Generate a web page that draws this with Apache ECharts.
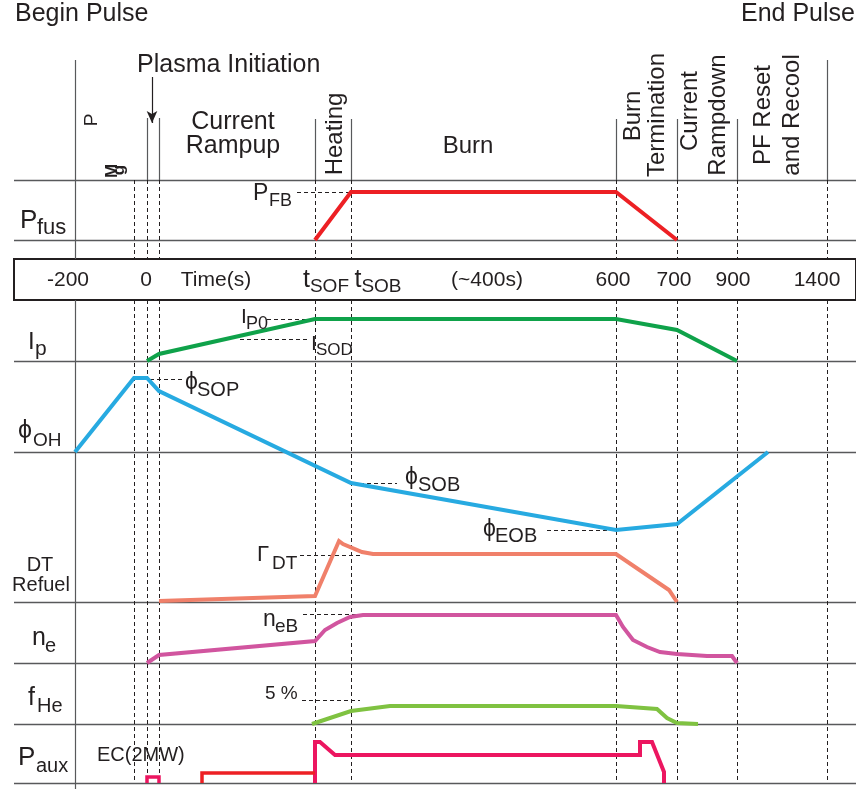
<!DOCTYPE html>
<html><head><meta charset="utf-8">
<script src="https://cdn.jsdelivr.net/npm/echarts@6/dist/echarts.min.js"></script>
<style>html,body{margin:0;padding:0;background:#fff}#c{width:856px;height:789px}</style>
</head><body><div id="c"></div>
<script>
// x: schematic time position across the pulse; y: signal level above each panel baseline (arbitrary units)
const pFus     = [[315,0],[351,48],[616,48],[677,0]];
const ip       = [[147,0],[159,7],[315,42],[616,42],[677,31],[737,0]];
const phiOH    = [[75,0],[134,74],[147,74],[159,61],[351,-31],[616,-78],[677,-72],[768,0]];
const dtRefuel = [[159,1],[315,6],[339,61],[343,58],[362,50],[373,48],[616,48],[669,12],[677,0]];
const neData   = [[147,0],[159,8],[315,22],[325,33],[337,40],[350,46],[363,48],[616,48],[623,36],[633,23],[647,16],[660,11],[677,9],[707,7],[732,7],[737,0]];
const fHe      = [[312,0],[351,13],[390,18],[616,18],[657,15],[667,6],[677,1],[698,0]];
const pAux     = [[315,0],[315,41],[320,41],[335,28],[640,28],[640,41],[652,41],[664,11],[664,0]];
const ecPulse  = [[147,0],[147,6],[159,6],[159,0]];
const ecHeat   = [[202,0],[202,10],[315,10]];

const timeTickValues = [68,146,216,326,378,487,613,674,733,817];
const timeTickLabels = ['-200','0','Time(s)','tSOF','tSOB','(~400s)','600','700','900','1400'];

const phaseBoundaries = [134,147,159,315,351,616,677,737,827];
const phaseTopLines   = [[147,118],[159,118],[315,119],[351,119],[616,119],[677,119],[737,119],[827,60]];
const panelBaselines  = [180,240,361,452,602,663,724,783];

const FONT = '"Liberation Sans", Arial, "DejaVu Sans", sans-serif';
const INK = '#231f20';

// panels: [top, height, ymin, ymax]
const panels = [
  [180,60,0,60],   // Pfus
  [300,61,0,61],   // Ip
  [361,241,-150,91], // phi OH
  [530,72,0,72],   // DT refuel
  [602,61,0,61],   // ne
  [663,61,0,61],   // fHe
  [724,59,0,59]    // Paux
];
const grids = panels.map(p => ({left:0,right:0,top:p[0],height:p[1],show:false}));
grids.push({left:0,right:0,top:259,height:41,show:false}); // 7 time box
grids.push({left:0,right:0,top:0,height:789,show:false});  // 8 overlay
const xAxes = grids.map((g,i) => ({gridIndex:i,type:'value',min:0,max:856,show:false}));
const yAxes = panels.map((p,i) => ({gridIndex:i,type:'value',min:p[2],max:p[3],show:false}));
yAxes.push({gridIndex:7,type:'value',min:0,max:1,show:false});
yAxes.push({gridIndex:8,type:'value',min:0,max:789,inverse:true,show:false});

xAxes[7] = {
  gridIndex:7,type:'value',min:0,max:856,position:'top',z:20,
  axisLine:{show:false},axisTick:{show:false},splitLine:{show:false},
  axisLabel:{
    show:true,inside:true,margin:21,verticalAlign:'middle',
    customValues: timeTickValues,
    fontSize:21,fontFamily:FONT,color:INK,
    formatter:function(v){
      const i = timeTickValues.indexOf(v);
      const s = i>=0 ? timeTickLabels[i] : '';
      if (s==='tSOF') return '{t|t}{s|SOF}';
      if (s==='tSOB') return '{t|t}{s|SOB}';
      return s;
    },
    rich:{
      t:{fontSize:25,fontFamily:FONT,color:INK},
      s:{fontSize:19,fontFamily:FONT,color:INK,padding:[13,0,0,0]}
    }
  }
};

function line(idx,data,color,w){
  return {type:'line',xAxisIndex:idx,yAxisIndex:idx,data:data,symbol:'none',clip:false,
    lineStyle:{color:color,width:w||4,join:'miter',cap:'butt'},animation:false,silent:true,z:5};
}

const solid = {color:'#58595b',width:1.2,type:'solid'};
const dash = {color:INK,width:1,type:[4,3]};
function seg(x1,y1,x2,y2,st){ return [{coord:[x1,y1],lineStyle:st},{coord:[x2,y2]}]; }

const marks = [];
panelBaselines.forEach(y => marks.push(seg(14,y,856,y,{color:'#58595b',width:1.3,type:'solid'})));
marks.push(seg(75,60,75,259,solid));
marks.push(seg(75,300,75,789,solid));
phaseTopLines.forEach(p => marks.push(seg(p[0],p[1],p[0],180,solid)));
phaseBoundaries.forEach(x => { marks.push(seg(x,180,x,259,dash)); marks.push(seg(x,300,x,783,dash)); });
// annotation leaders
[[297,351,192],[267,315,319],[240,310,339],[150,183,379],[353,397,483],[547,615,530],[300,363,555],[303,357,614],[302,360,700]]
  .forEach(a => marks.push(seg(a[0],a[2],a[1],a[2],dash)));

function T(x,base,s,size,align){
  return {type:'text',x:x,y:base-0.35*size,silent:true,z:50,
    style:{text:s,fontSize:size,fontFamily:FONT,fill:INK,textAlign:align||'left',textVerticalAlign:'middle'}};
}
function R(x,y,s,size,weight){
  return {type:'text',x:x,y:y,rotation:Math.PI/2,silent:true,z:50,
    style:{text:s,fontSize:size,fontWeight:weight||'normal',fontFamily:FONT,fill:INK,textAlign:'center',textVerticalAlign:'middle'}};
}
const texts = [
  T(15,23,'Begin Pulse',25), T(741,23,'End Pulse',25),
  T(137,74,'Plasma Initiation',25),
  T(233,131,'Current',25,'center'), T(233,155,'Rampup',25,'center'),
  T(468,155,'Burn',24,'center'),
  R(335,134,'Heating',24),
  R(633,116,'Burn',24), R(657,115,'Termination',24),
  R(690,111,'Current',24), R(718,115,'Rampdown',24),
  R(763,115,'PF Reset',24), R(792,115,'and Recool',24),
  R(92,120,'P',19), R(112,171,'M',17,'bold'), R(119,170,'g',17,'bold'),
  // panel names
  T(20,230,'P',26), T(37,236,'fus',22),
  T(28,351,'I',24), T(35,357,'p',21),
  T(18,440,'ϕ',25), T(33,447,'OH',19),
  T(40,572,'DT',20,'center'), T(41,592,'Refuel',20,'center'),
  T(32,647,'n',25), T(45,653,'e',20),
  T(28,707,'f',25), T(37,713,'He',20),
  T(18,767,'P',26), T(36,773,'aux',20),
  // annotations
  T(253,202,'P',23), T(269,207,'FB',18),
  T(241,325,'I',21), T(246,330,'P0',18),
  T(311,352,'I',21), T(316,356,'SOD',17),
  T(185,391,'ϕ',23), T(197,397,'SOP',20),
  T(405,486,'ϕ',23), T(418,492,'SOB',20),
  T(483,538,'ϕ',23), T(495,543,'EOB',20),
  T(257,563,'Γ',22), T(272,570,'DT',19),
  T(263,628,'n',23), T(275,633,'eB',19),
  T(265,700,'5 %',19),
  T(97,762,'EC(2MW)',20)
];

const RED='#ed2024', GREEN='#0fa24a', BLUE='#27aae1', SALMON='#f0806a', MAG='#d1559f', LGREEN='#7fc241', CRIM='#ec1660';

const option = {
  backgroundColor:'#ffffff',
  animation:false,
  grid:grids, xAxis:xAxes, yAxis:yAxes,
  series:[
    line(0,pFus,RED), line(1,ip,GREEN), line(2,phiOH,BLUE), line(3,dtRefuel,SALMON),
    line(4,neData,MAG), line(5,fHe,LGREEN), line(6,pAux,CRIM), line(6,ecPulse,CRIM,3.5), line(6,ecHeat,RED,3.5),
    {type:'line',xAxisIndex:8,yAxisIndex:8,data:[],symbol:'none',silent:true,animation:false,z:2,
      markArea:{silent:true,itemStyle:{color:'rgba(0,0,0,0)',borderColor:INK,borderWidth:2},
        data:[[{coord:[14,259]},{coord:[862,300]}]]},
      markLine:{silent:true,symbol:['none','none'],label:{show:false},animation:false,
        emphasis:{disabled:true},data:marks}
    },
    {type:'line',xAxisIndex:8,yAxisIndex:8,data:[],symbol:'none',silent:true,animation:false,z:3,
      markLine:{silent:true,symbol:['none','arrow'],symbolSize:[8,12],label:{show:false},animation:false,
        emphasis:{disabled:true},
        data:[[{coord:[152,77],lineStyle:{color:INK,width:1.2,type:'solid'}},{coord:[152,123]}]]}
    }
  ],
  graphic:{elements:texts}
};
const chart = echarts.init(document.getElementById('c'),null,{renderer:'canvas'});
chart.setOption(option);
</script></body></html>
